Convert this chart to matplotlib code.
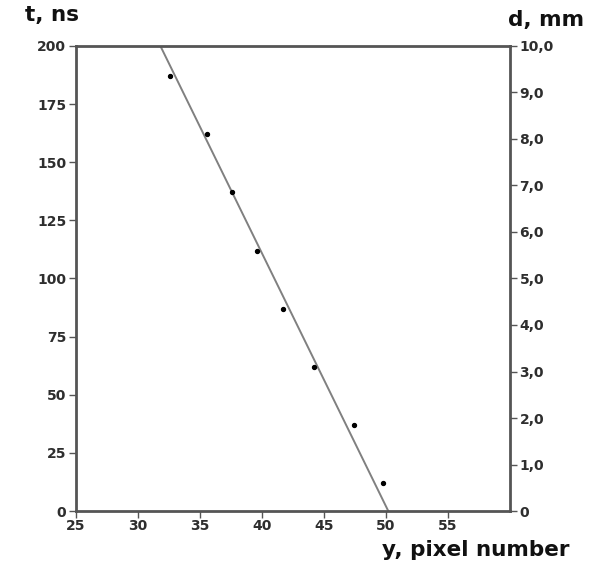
import matplotlib.pyplot as plt
import numpy as np

# data
pixel_y = [32.6, 35.6, 37.6, 39.6, 41.7, 44.2, 47.4, 49.8]
time_ns = [187, 162, 137, 112, 87, 62, 37, 12]
fit_y = [31.8, 50.2]
fit_t = [200, 0]

x_ticks = [25, 30, 35, 40, 45, 50, 55]
t_ticks = [0, 25, 50, 75, 100, 125, 150, 175, 200]
d_ticks = [0, 1, 2, 3, 4, 5, 6, 7, 8, 9, 10]
d_labels = ["0"] + [f"{v:.1f}".replace(".", ",") for v in d_ticks[1:]]

plt.rcParams['font.family'] = ['DejaVu Sans']
spine_col = "#555555"
txt_col = "#2e2e2e"

fig = plt.figure(figsize=(5.99, 5.66), dpi=100)
ax = fig.add_axes([0.127, 0.097, 0.724, 0.822])

ax.plot(fit_y, fit_t, color="#808080", lw=1.4, zorder=2)
ax.scatter(pixel_y, time_ns, s=8, color="black", zorder=3)

ax.set_xlim(25, 60)
ax.set_ylim(0, 200)
ax.set_xticks(x_ticks)
ax.set_yticks(t_ticks)

for s in ax.spines.values():
    s.set_color(spine_col)
    s.set_linewidth(2)

ax.tick_params(axis="both", colors=spine_col, labelcolor=txt_col, labelsize=10,
               direction="out", length=5, width=1)
ax.tick_params(axis="x", pad=0.5)
ax.tick_params(axis="y", pad=2)
for lab in ax.get_xticklabels() + ax.get_yticklabels():
    lab.set_fontweight("bold")

ax2 = ax.twinx()
ax2.set_ylim(0, 10)
ax2.set_yticks(d_ticks)
ax2.set_yticklabels(d_labels)
for s in ax2.spines.values():
    s.set_visible(False)
ax2.tick_params(axis="y", colors=spine_col, labelcolor=txt_col, labelsize=10,
                direction="out", length=5, width=1, pad=2)
for lab in ax2.get_yticklabels():
    lab.set_fontweight("bold")

fig.text(25 / 599, 1 - 15 / 566, "t, ns", fontsize=15.5, fontweight="bold",
         color="#111111", ha="left", va="center")
fig.text(584 / 599, 1 - 20 / 566, "d, mm", fontsize=15.5, fontweight="bold",
         color="#111111", ha="right", va="center")
fig.text(570 / 599, 1 - 550 / 566, "y, pixel number", fontsize=15.5, fontweight="bold",
         color="#111111", ha="right", va="center")

fig.savefig("out.png", dpi=100)
